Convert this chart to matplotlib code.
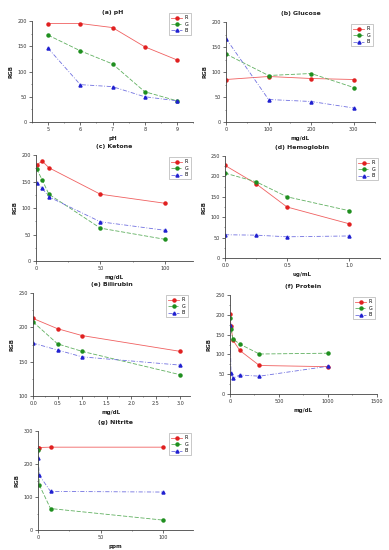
import numpy as np
import matplotlib
matplotlib.use("Agg")
import matplotlib.pyplot as plt
from matplotlib.ticker import AutoMinorLocator

# (a) pH
ph_x = [5, 6, 7, 8, 9]
ph_r = [195, 195, 187, 149, 123]
ph_g = [172, 141, 115, 60, 42]
ph_b = [146, 74, 70, 50, 42]

# (b) Glucose
glu_x = [0, 100, 200, 300]
glu_r = [85, 91, 87, 85]
glu_g = [136, 93, 97, 69]
glu_b = [167, 45, 41, 28]

# (c) Ketone
ket_x = [0.5, 5, 10, 50, 100]
ket_r = [182, 188, 176, 126, 109]
ket_g = [174, 152, 126, 62, 41]
ket_b = [148, 137, 121, 74, 58]

# (d) Hemoglobin
hem_x = [0, 0.25, 0.5, 1.0]
hem_r = [227, 182, 125, 84]
hem_g = [208, 187, 150, 116]
hem_b = [57, 56, 52, 54]

# (e) Bilirubin
bil_x = [0, 0.5, 1.0, 3.0]
bil_r = [213, 198, 188, 165]
bil_g = [208, 176, 165, 131]
bil_b = [177, 167, 157, 145]

# (f) Protein
pro_x = [0, 10, 30, 100, 300, 1000]
pro_r = [201, 172, 136, 110, 72, 69]
pro_g = [193, 163, 139, 126, 101, 103]
pro_b = [175, 52, 40, 48, 45, 70]

# (g) Nitrite
nit_x = [0, 1, 10, 100]
nit_r = [248, 250, 251, 251]
nit_g = [243, 137, 65, 30]
nit_b = [218, 166, 117, 115]

W, H = 389, 550

def rect(l, t, r, b):
    return [l / W, 1 - b / H, (r - l) / W, (b - t) / H]

panels = [
    ("(a) pH", "pH", ph_x, ph_r, ph_g, ph_b, (4.5, 9.5), (0, 200), [5, 6, 7, 8, 9], [0, 50, 100, 150, 200], (32, 21, 193, 122)),
    ("(b) Glucose", "mg/dL", glu_x, glu_r, glu_g, glu_b, (0, 350), (0, 200), [0, 100, 200, 300], [0, 50, 100, 150, 200], (226, 22, 375, 122)),
    ("(c) Ketone", "mg/dL", ket_x, ket_r, ket_g, ket_b, (0, 122), (0, 200), [0, 50, 100], [0, 50, 100, 150, 200], (36, 155, 193, 261)),
    ("(d) Hemoglobin", "ug/mL", hem_x, hem_r, hem_g, hem_b, (0, 1.25), (0, 250), [0.0, 0.5, 1.0], [0, 50, 100, 150, 200, 250], (225, 156, 380, 258)),
    ("(e) Bilirubin", "mg/dL", bil_x, bil_r, bil_g, bil_b, (0, 3.2), (100, 250), [0.0, 0.5, 1.0, 1.5, 2.0, 2.5, 3.0], [100, 150, 200, 250], (33, 293, 190, 396)),
    ("(f) Protein", "mg/dL", pro_x, pro_r, pro_g, pro_b, (0, 1500), (0, 250), [0, 500, 1000, 1500], [0, 50, 100, 150, 200, 250], (230, 295, 377, 394)),
    ("(g) Nitrite", "ppm", nit_x, nit_r, nit_g, nit_b, (0, 124), (0, 300), [0, 50, 100], [0, 100, 200, 300], (38, 431, 193, 530)),
]

fig = plt.figure(figsize=(W / 100, H / 100), dpi=100)

for i, (title, xlab, x, r, g, b, xl, yl, xt, yt, box) in enumerate(panels):
    ax = fig.add_axes(rect(*box))
    ax.plot(x, r, color="#f06060", lw=0.6, ls="-", marker="o", ms=2.2,
            mfc="#e02020", mec="#e02020", label="R")
    ax.plot(x, g, color="#60b060", lw=0.6, ls=(0, (5, 2)), marker="o", ms=2.2,
            mfc="#1f8f1f", mec="#1f8f1f", label="G")
    ax.plot(x, b, color="#7070e0", lw=0.6, ls=(0, (5, 2, 1, 2)), marker="^", ms=2.2,
            mfc="#2020d0", mec="#2020d0", label="B")
    ax.set_xlim(*xl)
    ax.set_ylim(*yl)
    ax.set_xticks(xt)
    ax.set_yticks(yt)
    if isinstance(xt[1], float):
        ax.set_xticklabels([f"{v:.1f}" for v in xt])
    ax.xaxis.set_minor_locator(AutoMinorLocator(2))
    ax.yaxis.set_minor_locator(AutoMinorLocator(2))
    for s in ["top", "right"]:
        ax.spines[s].set_visible(False)
    for s in ["left", "bottom"]:
        ax.spines[s].set_linewidth(0.6)
        ax.spines[s].set_color("#444444")
    ax.tick_params(which="major", labelsize=3.5, length=2, width=0.5, pad=1.5, colors="#333333")
    ax.tick_params(which="minor", length=1, width=0.4, colors="#333333")
    ax.set_title(title, fontsize=4.5, fontweight="bold", pad=5, color="#222222")
    ax.set_xlabel(xlab, fontsize=4, fontweight="bold", labelpad=3, color="#222222")
    ax.set_ylabel("RGB", fontsize=4, fontweight="bold", labelpad=3, color="#222222")
    anchor = (1.0, 1.1) if i == 0 else (1.0, 1.0)
    leg = ax.legend(loc="upper right", bbox_to_anchor=anchor, fontsize=3.5,
                    frameon=True, fancybox=False, handlelength=2.2,
                    borderpad=0.4, labelspacing=0.3, handletextpad=0.6)
    leg.get_frame().set_linewidth(0.4)
    leg.get_frame().set_edgecolor("#888888")

plt.savefig("out.png", dpi=100)
